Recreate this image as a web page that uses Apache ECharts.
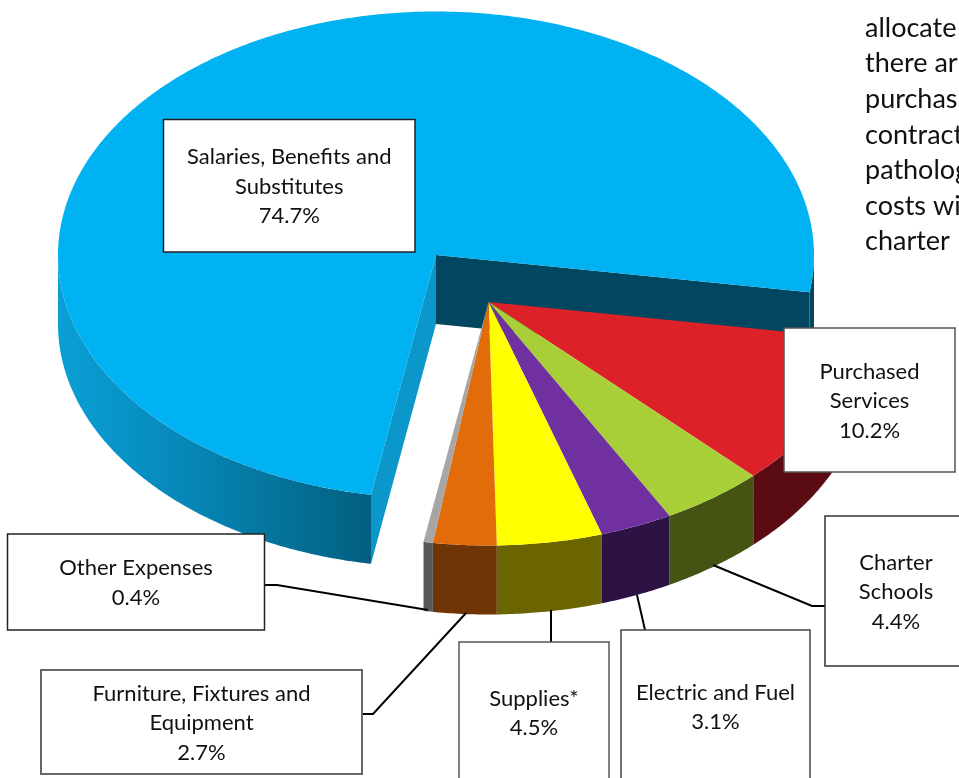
<!DOCTYPE html>
<html>
<head>
<meta charset="utf-8">
<style>html,body{margin:0;padding:0;background:#fff;overflow:hidden}#chart{width:959px;height:778px}</style>
<script src="https://cdn.jsdelivr.net/npm/echarts@6/dist/echarts.min.js"></script>
</head>
<body>
<div id="chart"></div>
<script>
// Budget shares, in drawing order around the pie
const categories = [
  'Salaries, Benefits and Substitutes',
  'Purchased Services',
  'Charter Schools',
  'Electric and Fuel',
  'Supplies*',
  'Furniture, Fixtures and Equipment',
  'Other Expenses'
];
const shares = [74.7, 10.2, 4.4, 3.1, 4.5, 2.7, 0.4];

// Surrounding document text, cut off by the page edge
const sideText = ['allocate', 'there ar', 'purchas', 'contract', 'patholog', 'costs wi', 'charter'];

// Line breaks used inside each callout
const labelLines = [
  ['Salaries, Benefits and', 'Substitutes'],
  ['Purchased', 'Services'],
  ['Charter', 'Schools'],
  ['Electric and Fuel'],
  ['Supplies*'],
  ['Furniture, Fixtures and', 'Equipment'],
  ['Other Expenses']
];

// Face colours for the top of each wedge and its outer wall
const topColors = ['#00b2f1', '#dc2128', '#a8cf38', '#7030a0', '#ffff00', '#e36c0a', '#a6a6a6'];
const wallColors = ['#0a9bd1', '#5a0c12', '#465413', '#2d1244', '#6a6500', '#6f3505', '#55595b'];

// Pie projection
const RX = 378, RY = 243.5, DEPTH = 69;
const START_DEG = 99.9;              // where the first wedge begins, clockwise from 3 o'clock
const MAIN_CENTER = [436, 255];
const PULLED_CENTER = [488.5, 302];  // the smaller wedges are pulled out together

// Callout boxes [left, top, right, bottom], leader polylines and box border tints
const boxes = [
  [163.5, 119.5, 415, 252],
  [784, 328, 955, 472],
  [825, 516, 967, 666],
  [621, 630, 810, 783],
  [459, 642, 609, 783],
  [41, 670, 362, 774],
  [7.5, 534, 264.5, 630]
];
const boxBorders = ['#222', '#555', '#333', '#444', '#555', '#666', '#222'];
const leaders = [
  null,
  null,
  [[825, 606], [812, 606], [713, 565]],
  [[645, 630], [637, 595]],
  [[551, 642], [551, 610]],
  [[362, 714], [373, 714], [466, 613]],
  [[264, 585], [277, 585], [428, 610]]
];

const FONT = 'Lato, "Open Sans", sans-serif';
const TAU = Math.PI / 180;

function rim(center, deg, drop) {
  return [center[0] + RX * Math.cos(deg * TAU), center[1] + RY * Math.sin(deg * TAU) + drop];
}
function arc(center, from, to, drop) {
  const pts = [];
  const steps = Math.max(2, Math.ceil(Math.abs(to - from) * 2));
  for (let i = 0; i <= steps; i++) pts.push(rim(center, from + (to - from) * i / steps, drop));
  return pts;
}
function wallShape(center, from, to) {
  return arc(center, from, to, 0).concat(arc(center, to, from, DEPTH));
}
function poly(points, fill) {
  return { type: 'polygon', shape: { points }, style: { fill, stroke: null } };
}

const totalShare = shares.reduce((a, b) => a + b, 0);
const starts = [];
shares.reduce((acc, v, i) => { starts[i] = acc; return acc + v / totalShare * 360; }, START_DEG);

function renderWedge(params, api) {
  const i = params.dataIndex;
  const from = starts[i];
  const to = from + api.value(0) / totalShare * 360;
  const c = i === 0 ? MAIN_CENTER : PULLED_CENTER;
  const children = [];
  if (i === 0) {
    // Outer wall: the front-left stretch shades horizontally, plus the sliver at far right
    const shade = new echarts.graphic.LinearGradient(58, 0, 371, 0, [
      { offset: 0, color: '#0a9fd6' },
      { offset: 0.45, color: '#0685b4' },
      { offset: 1, color: '#035e80' }
    ], true);
    children.push(poly(wallShape(c, from, 180), shade));
    children.push(poly(wallShape(c, 360, to), '#02475f'));
    // The two faces exposed by the cut
    const a = rim(c, from, 0), b = rim(c, to, 0);
    children.push(poly([c, [c[0], c[1] + DEPTH], [a[0], a[1] + DEPTH], a], '#0b97ca'));
    children.push(poly([c, b, [b[0], b[1] + DEPTH], [c[0], c[1] + DEPTH]], '#02475f'));
  } else {
    children.push(poly(wallShape(c, from, to), wallColors[i]));
  }
  children.push(poly([c].concat(arc(c, from, to, 0)), topColors[i]));
  return { type: 'group', children };
}

function renderCallout(params, api) {
  const i = params.dataIndex;
  const [l, t, r, b] = boxes[i];
  const children = [];
  if (leaders[i]) {
    children.push({ type: 'polyline', shape: { points: leaders[i] }, style: { stroke: '#000', lineWidth: 2, fill: null } });
  }
  children.push({
    type: 'rect',
    shape: { x: l, y: t, width: r - l, height: b - t },
    style: { fill: '#fff', stroke: boxBorders[i], lineWidth: i === 5 ? 2 : 1.5 }
  });
  const lines = labelLines[i].concat(api.value(0).toFixed(1) + '%');
  const lineGap = 29.5;
  const mid = (t + b) / 2 + 1;
  lines.forEach((text, k) => {
    children.push({
      type: 'text',
      style: {
        x: (l + r) / 2,
        y: mid + (k - (lines.length - 1) / 2) * lineGap,
        text,
        font: '22px ' + FONT,
        fill: '#111',
        align: 'center',
        verticalAlign: 'middle'
      }
    });
  });
  return { type: 'group', children };
}

const chart = echarts.init(document.getElementById('chart'));
chart.setOption({
  backgroundColor: '#fff',
  animation: false,
  graphic: sideText.map((text, k) => ({
    type: 'text',
    x: 865,
    y: 28 + k * 35.6,
    style: { text, font: '27px ' + FONT, fill: '#111', align: 'left', verticalAlign: 'middle' }
  })),
  series: [
    {
      type: 'custom',
      coordinateSystem: 'none',
      silent: true,
      z: 2,
      data: shares.map((v, i) => ({ name: categories[i], value: [v] })),
      renderItem: renderWedge
    },
    {
      type: 'custom',
      coordinateSystem: 'none',
      silent: true,
      z: 3,
      data: shares.map((v, i) => ({ name: categories[i], value: [v] })),
      renderItem: renderCallout
    }
  ]
});
</script>
</body>
</html>
